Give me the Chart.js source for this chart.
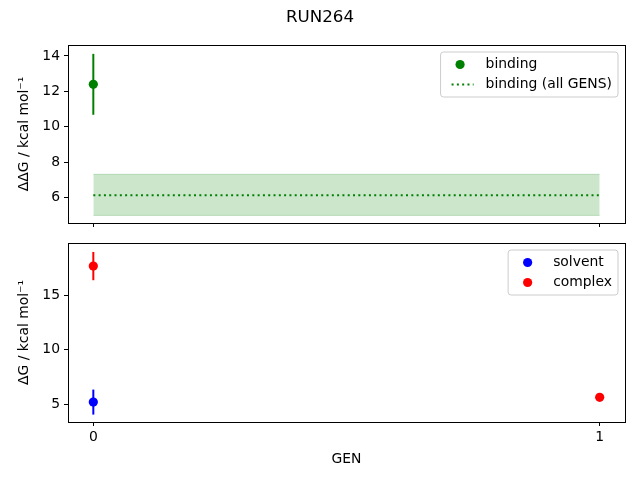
<!DOCTYPE html>
<html>
<head>
<meta charset="utf-8">
<script src="https://cdn.jsdelivr.net/npm/chart.js@4.4.0/dist/chart.umd.min.js"></script>
<style>
  html, body { margin: 0; padding: 0; background: #fff; }
  #wrap { position: relative; width: 640px; height: 480px; }
  #wrap canvas { position: absolute; left: 0; top: 0; }
  #title { position: absolute; left: 0; top: 6px; width: 640px; text-align: center;
           font-family: "DejaVu Sans", sans-serif; font-size: 16.7px; color: #000; line-height: 20px; }
</style>
</head>
<body>
<div id="wrap">
  <canvas id="top" width="640" height="480"></canvas>
  <canvas id="bottom" width="640" height="480"></canvas>
  <div id="title">RUN264</div>
</div>
<script>
// ---- data ----
const xTicks = [0, 1];
const xRange = [-0.05, 1.05];

const bindingGens = [0];
const bindingValues = [12.4];
const bindingErrors = [1.72];

const allGensX = [0, 1];
const allGensValue = [6.13, 6.13];
const allGensLower = [5.0, 5.0];
const allGensUpper = [7.32, 7.32];

const solventGens = [0];
const solventValues = [5.2];
const solventErrors = [1.15];

const complexGens = [0, 1];
const complexValues = [17.7, 5.64];
const complexErrors = [1.3, 0];

const topYTicks = [6, 8, 10, 12, 14];
const topYRange = [4.57, 14.62];
const bottomYTicks = [5, 10, 15];
const bottomYRange = [3.37, 19.82];

const topYLabel = 'ΔΔG / kcal mol⁻¹';
const bottomYLabel = 'ΔG / kcal mol⁻¹';
const xLabel = 'GEN';

// ---- helpers ----
const FONT = 'DejaVu Sans';
const FS = 13.9;
const MR = 4.6;
Chart.defaults.font.family = FONT;
Chart.defaults.font.size = FS;
Chart.defaults.color = '#000';
Chart.defaults.animation = false;

function pts(xs, ys) { return xs.map((x, i) => ({ x: x, y: ys[i] })); }

const errorBarPlugin = {
  id: 'errorBars',
  beforeDatasetsDraw(chart) {
    const ctx = chart.ctx;
    const xs = chart.scales.x, ys = chart.scales.y;
    chart.data.datasets.forEach(ds => {
      if (!ds.errors) return;
      ctx.save();
      ctx.strokeStyle = ds.backgroundColor;
      ctx.lineWidth = 2;
      ds.data.forEach((p, i) => {
        const e = ds.errors[i];
        if (!e) return;
        const px = xs.getPixelForValue(p.x);
        ctx.beginPath();
        ctx.moveTo(px, ys.getPixelForValue(p.y - e));
        ctx.lineTo(px, ys.getPixelForValue(p.y + e));
        ctx.stroke();
      });
      ctx.restore();
    });
  }
};

const framePlugin = {
  id: 'frame',
  afterDraw(chart) {
    const a = chart.chartArea, ctx = chart.ctx;
    ctx.save();
    ctx.strokeStyle = '#000';
    ctx.lineWidth = 1;
    ctx.strokeRect(Math.round(a.left) + 0.5, Math.round(a.top) + 0.5,
                   Math.round(a.right - a.left), Math.round(a.bottom - a.top));
    ctx.restore();
  }
};

const insideLegendPlugin = {
  id: 'insideLegend',
  afterDraw(chart) {
    const ctx = chart.ctx, a = chart.chartArea;
    const items = chart.data.datasets.filter(d => d.label);
    ctx.save();
    ctx.font = FS + 'px "' + FONT + '"';
    let maxW = 0;
    items.forEach(d => { maxW = Math.max(maxW, ctx.measureText(d.label).width); });
    const w = 45 + maxW + 6;
    const rowH = 20;
    const h = 12 + rowH * (items.length - 1) + 13;
    const x0 = a.right - 7 - w, y0 = a.top + 7;
    const r = 3;
    ctx.beginPath();
    ctx.moveTo(x0 + r, y0);
    ctx.lineTo(x0 + w - r, y0); ctx.quadraticCurveTo(x0 + w, y0, x0 + w, y0 + r);
    ctx.lineTo(x0 + w, y0 + h - r); ctx.quadraticCurveTo(x0 + w, y0 + h, x0 + w - r, y0 + h);
    ctx.lineTo(x0 + r, y0 + h); ctx.quadraticCurveTo(x0, y0 + h, x0, y0 + h - r);
    ctx.lineTo(x0, y0 + r); ctx.quadraticCurveTo(x0, y0, x0 + r, y0);
    ctx.closePath();
    ctx.fillStyle = 'rgba(255,255,255,0.8)';
    ctx.fill();
    ctx.strokeStyle = '#cccccc';
    ctx.lineWidth = 1;
    ctx.stroke();
    items.forEach((d, i) => {
      const cy = y0 + 12.5 + i * rowH;
      if (d.legendLine) {
        ctx.strokeStyle = d.borderColor;
        ctx.lineWidth = 2;
        ctx.setLineDash(d.borderDash || []);
        ctx.beginPath();
        ctx.moveTo(x0 + 11, cy); ctx.lineTo(x0 + 33, cy);
        ctx.stroke();
        ctx.setLineDash([]);
      } else {
        ctx.fillStyle = d.backgroundColor;
        ctx.beginPath();
        ctx.arc(x0 + 19.5, cy, MR, 0, Math.PI * 2);
        ctx.fill();
      }
      ctx.fillStyle = '#000';
      ctx.textBaseline = 'middle';
      ctx.textAlign = 'left';
      ctx.fillText(d.label, x0 + 45, cy);
    });
    ctx.restore();
  }
};

function xScale(showLabels, height) {
  return {
    type: 'linear', min: xRange[0], max: xRange[1],
    afterBuildTicks: s => { s.ticks = xTicks.map(v => ({ value: v })); },
    afterFit: s => { s.height = height; },
    grid: { display: true, drawOnChartArea: false, drawTicks: true, tickLength: 4, color: '#000' },
    border: { display: true, color: '#000', width: 1 },
    ticks: { display: showLabels, padding: 3, color: '#000', font: { size: FS } },
    title: { display: showLabels, text: xLabel, color: '#000', font: { size: FS }, padding: { top: 4, bottom: 12 } }
  };
}
function yScale(range, ticks, label) {
  return {
    type: 'linear', min: range[0], max: range[1],
    afterBuildTicks: s => { s.ticks = ticks.map(v => ({ value: v })); },
    afterFit: s => { s.width = 68; },
    grid: { display: true, drawOnChartArea: false, drawTicks: true, tickLength: 4, color: '#000' },
    border: { display: true, color: '#000', width: 1 },
    ticks: { padding: 4, color: '#000', font: { size: FS } },
    title: { display: true, text: label, color: '#000', font: { size: FS }, padding: { top: 16, bottom: 0 } }
  };
}

// ---- top chart ----
new Chart(document.getElementById('top'), {
  type: 'scatter',
  data: {
    datasets: [
      { label: 'binding', data: pts(bindingGens, bindingValues), errors: bindingErrors,
        backgroundColor: '#008000', borderColor: '#008000', pointRadius: MR, pointBorderWidth: 0, order: 0 },
      { label: 'binding (all GENS)', legendLine: true, data: pts(allGensX, allGensValue), showLine: true,
        borderColor: '#008000', backgroundColor: '#008000', borderWidth: 2, borderDash: [2, 3.3],
        pointRadius: 0, order: 1 },
      { label: '', data: pts(allGensX, allGensLower), showLine: true, pointRadius: 0,
        borderColor: 'rgba(0,128,0,0.2)', borderWidth: 1, backgroundColor: 'rgba(0,128,0,0.2)', fill: false, order: 3 },
      { label: '', data: pts(allGensX, allGensUpper), showLine: true, pointRadius: 0,
        borderColor: 'rgba(0,128,0,0.2)', borderWidth: 1, backgroundColor: 'rgba(0,128,0,0.2)', fill: '-1', order: 2 }
    ]
  },
  options: {
    responsive: false,
    layout: { padding: { top: 45, right: 15, bottom: 247, left: 0 } },
    plugins: { legend: { display: false }, tooltip: { enabled: false }, title: { display: false } },
    scales: { x: xScale(false, 10), y: yScale(topYRange, topYTicks, topYLabel) }
  },
  plugins: [errorBarPlugin, framePlugin, insideLegendPlugin]
});

// ---- bottom chart ----
new Chart(document.getElementById('bottom'), {
  type: 'scatter',
  data: {
    datasets: [
      { label: 'solvent', data: pts(solventGens, solventValues), errors: solventErrors,
        backgroundColor: '#0000ff', borderColor: '#0000ff', pointRadius: MR, pointBorderWidth: 0 },
      { label: 'complex', data: pts(complexGens, complexValues), errors: complexErrors,
        backgroundColor: '#ff0000', borderColor: '#ff0000', pointRadius: MR, pointBorderWidth: 0 }
    ]
  },
  options: {
    responsive: false,
    layout: { padding: { top: 243, right: 15, bottom: 0, left: 0 } },
    plugins: { legend: { display: false }, tooltip: { enabled: false }, title: { display: false } },
    scales: { x: xScale(true, 58), y: yScale(bottomYRange, bottomYTicks, bottomYLabel) }
  },
  plugins: [errorBarPlugin, framePlugin, insideLegendPlugin]
});
</script>
</body>
</html>
